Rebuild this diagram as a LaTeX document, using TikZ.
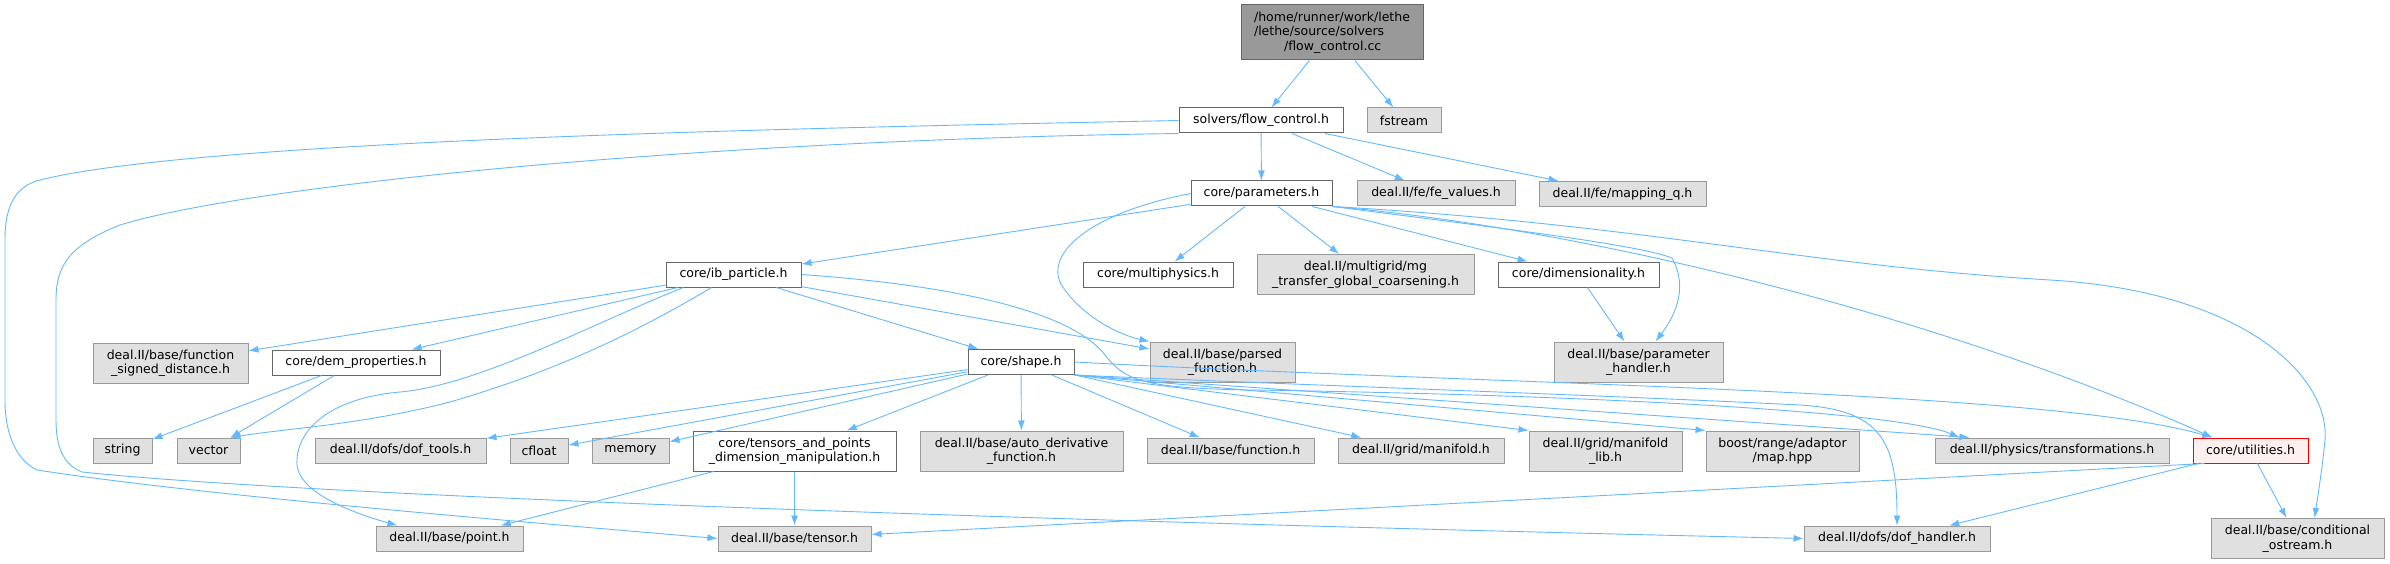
\documentclass[tikz,border=0pt]{standalone}
\usepackage{fontspec}
\setmainfont{DejaVu Sans}
\usetikzlibrary{arrows.meta}

\definecolor{edgeblue}{HTML}{63B8FF}
\definecolor{localborder}{HTML}{666666}
\definecolor{sysborder}{HTML}{999999}
\definecolor{sysfill}{HTML}{E0E0E0}
\definecolor{rootfill}{HTML}{999999}
\definecolor{missingfill}{HTML}{FFF0F0}

\begin{document}
\begin{tikzpicture}[x=1pt,y=-1pt]
  \tikzset{
      > = {Latex[length=10pt,width=7pt]},
      every node/.append style = {
          font = \fontsize{12.5}{14.5}\selectfont,
          shape = rectangle,
          inner sep = 0pt,
          minimum height = 25pt,
          line width = 1pt
      },
      every edge/.append style = {
          arrows = ->,
          draw = edgeblue,
          line width = 0.9pt
      },
      dep/.style = {
          arrows = ->,
          draw = edgeblue,
          line width = 0.9pt
      },
      local/.style = {draw = localborder, fill = white},
      system/.style = {draw = sysborder, fill = sysfill},
      current/.style = {draw = localborder, fill = rootfill},
      missing/.style = {draw = red, fill = missingfill},
      tall/.style = {minimum height = 40pt, align = center}
  }
  \useasboundingbox (0,0) rectangle (2390,564);

  \node[current, minimum width=182pt, minimum height=55pt, align=left] (root) at (1332,32.5)
      {/home/runner/work/lethe\\/lethe/source/solvers\\\hspace*{30pt}/flow\_control.cc};
  \node[local, minimum width=164pt] (flowctl) at (1261,120.5) {solvers/flow\_control.h};
  \node[system, minimum width=74pt] (fstream) at (1404,120.5) {fstream};
  \node[local, minimum width=141pt] (params) at (1261.5,193.5) {core/parameters.h};
  \node[system, minimum width=158pt] (fevalues) at (1436,193.5) {deal.II/fe/fe\_values.h};
  \node[system, minimum width=167pt] (mappingq) at (1622.5,194) {deal.II/fe/mapping\_q.h};
  \node[local, minimum width=135pt] (ibparticle) at (733.5,274.5) {core/ib\_particle.h};
  \node[local, minimum width=150pt] (multiphys) at (1158,274.5) {core/multiphysics.h};
  \node[system, tall, minimum width=217pt] (mgtransfer) at (1365.5,274.5) {deal.II/multigrid/mg\\\_transfer\_global\_coarsening.h};
  \node[local, minimum width=161pt] (dimension) at (1578.5,274.5) {core/dimensionality.h};
  \node[system, tall, minimum width=155pt] (signeddist) at (170.5,363) {deal.II/base/function\\\_signed\_distance.h};
  \node[local, minimum width=168pt] (demprop) at (356,362.5) {core/dem\_properties.h};
  \node[local, minimum width=106pt] (shape) at (1021,362) {core/shape.h};
  \node[system, tall, minimum width=145pt] (parsedfn) at (1222.5,362) {deal.II/base/parsed\\\_function.h};
  \node[system, tall, minimum width=169pt] (paramhandler) at (1638.5,362) {deal.II/base/parameter\\\_handler.h};
  \node[system, minimum width=59pt] (string) at (122.5,450.5) {string};
  \node[system, minimum width=63pt] (vector) at (208.5,450.5) {vector};
  \node[system, minimum width=171pt] (doftools) at (400.5,450.5) {deal.II/dofs/dof\_tools.h};
  \node[system, minimum width=58pt] (cfloat) at (539,450.5) {cfloat};
  \node[system, minimum width=77pt] (memory) at (630.5,450.5) {memory};
  \node[local, tall, minimum width=203pt] (tensorsdim) at (794.5,451) {core/tensors\_and\_points\\\_dimension\_manipulation.h};
  \node[system, tall, minimum width=203pt] (autoderiv) at (1021.5,451) {deal.II/base/auto\_derivative\\\_function.h};
  \node[system, minimum width=167pt] (function) at (1230.5,450.5) {deal.II/base/function.h};
  \node[system, minimum width=166pt] (manifold) at (1421,450.5) {deal.II/grid/manifold.h};
  \node[system, tall, minimum width=153pt] (manifoldlib) at (1605.5,451) {deal.II/grid/manifold\\\_lib.h};
  \node[system, tall, minimum width=153pt] (boostmap) at (1782.5,451) {boost/range/adaptor\\/map.hpp};
  \node[system, minimum width=234pt] (transform) at (2052,450.5) {deal.II/physics/transformations.h};
  \node[missing, minimum width=115pt] (utilities) at (2250.5,450.5) {core/utilities.h};
  \node[system, minimum width=147pt] (point) at (449.5,538.5) {deal.II/base/point.h};
  \node[system, minimum width=153pt] (tensor) at (794.5,538.5) {deal.II/base/tensor.h};
  \node[system, minimum width=186pt] (dofhandler) at (1897,538.5) {deal.II/dofs/dof\_handler.h};
  \node[system, tall, minimum width=173pt] (condostream) at (2297.5,538.5) {deal.II/base/conditional\\\_ostream.h};

  \path (root) edge (flowctl);
  \path (root) edge (fstream);
  \path (flowctl) edge (params);
  \path (flowctl) edge (fevalues);
  \path (flowctl) edge (mappingq);
  % the two long loops round the left side
  \draw[dep] (flowctl.west) .. controls (800,128) and (200,140) .. (40,180)
      .. controls (10,187.5) and (5,215) .. (5,240) -- (5,400)
      .. controls (5,440) and (20,462) .. (37,470)
      .. controls (200,495) and (500,520) .. (tensor.west);
  \draw[dep] (flowctl.south west) .. controls (700,140) and (250,185) .. (120,225)
      .. controls (70,245) and (56,265) .. (56,300) -- (56,420)
      .. controls (56,450) and (65,465) .. (82,472)
      .. controls (300,495) and (1000,520) .. (dofhandler.west);

  \path (params) edge (ibparticle);
  \path (params) edge (multiphys);
  \path (params) edge (mgtransfer);
  \path (params) edge (dimension);
  \draw[dep] (params.west) .. controls (1080,215) and (1040,260) .. (1065,290)
      .. controls (1085,318) and (1120,335) .. (parsedfn.north west);
  \draw[dep] (params.south east) .. controls (1500,228) and (1640,245) .. (1672,258)
      .. controls (1690,290) and (1672,320) .. ([xshift=17pt]paramhandler.north);
  \draw[dep] (params.south east) .. controls (1600,230) and (1950,320) .. ([xshift=20pt]utilities.north west);
  \draw[dep] (params.south east) .. controls (1650,225) and (1800,265) .. (2050,280)
      .. controls (2250,292) and (2330,380) .. (2325,440)
      .. controls (2322,470) and (2318,495) .. ([xshift=17pt]condostream.north);
  \path (dimension) edge (paramhandler);

  \path (ibparticle) edge (signeddist);
  \path (ibparticle) edge (demprop);
  \path (ibparticle) edge (shape);
  \path (ibparticle) edge (parsedfn);
  \draw[dep] ([xshift=18pt]ibparticle.south west) .. controls (600,320) and (480,385) .. (400,392)
      .. controls (330,398) and (295,430) .. (297,465)
      .. controls (300,495) and (360,515) .. ([xshift=22pt]point.north west);
  \draw[dep] ([xshift=46pt]ibparticle.south west) .. controls (640,330) and (560,370) .. (450,402)
      .. controls (360,425) and (290,428) .. ([xshift=-10pt]vector.north east);
  \draw[dep] (ibparticle.east) .. controls (950,285) and (1070,310) .. (1105,355)
      .. controls (1125,380) and (1140,388) .. (1250,390)
      .. controls (1600,395) and (1900,412) .. ([xshift=25pt]transform.north west);

  \path (demprop) edge (string);
  \path (demprop) edge (vector);

  \path (shape) edge (doftools);
  \path (shape) edge (cfloat);
  \path (shape) edge (memory);
  \path (shape) edge (tensorsdim);
  \path (shape) edge (autoderiv);
  \path (shape) edge (function);
  \path (shape.south east) edge (manifold);
  \path (shape.south east) edge (manifoldlib.north west);
  \path (shape.south east) edge (boostmap.north west);
  \path (shape.south east) edge ([xshift=35pt]transform.north west);
  \draw[dep] (shape.east) .. controls (1500,385) and (2050,390) .. ([xshift=20pt]utilities.north west);
  \draw[dep] (shape.south east) .. controls (1300,385) and (1600,395) .. (1800,405)
      .. controls (1880,410) and (1897,440) .. (dofhandler.north);

  \path (tensorsdim) edge (point);
  \path (tensorsdim) edge (tensor);
  \path ([xshift=12pt]utilities.south west) edge (tensor);
  \path (utilities) edge (dofhandler);
  \path (utilities) edge (condostream);
\end{tikzpicture}
\end{document}
